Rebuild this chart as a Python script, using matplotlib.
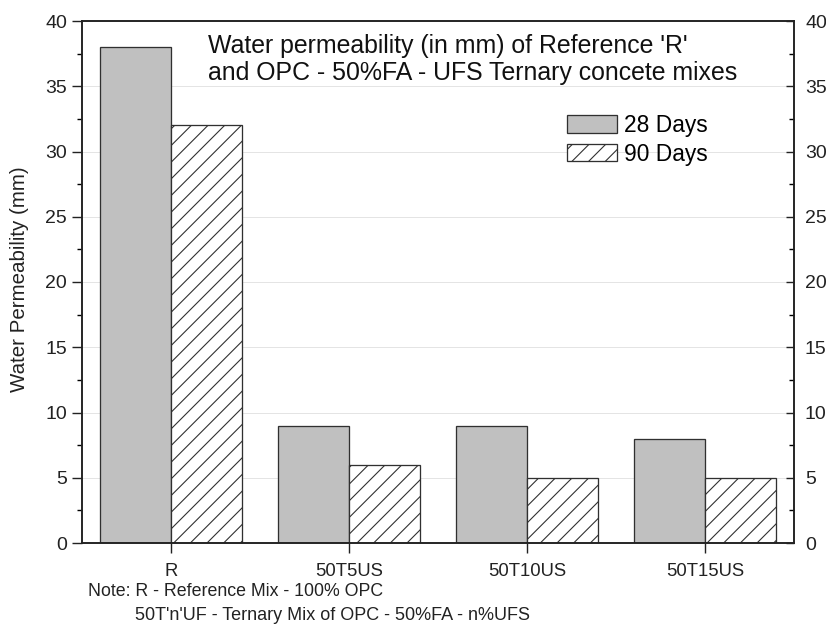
import matplotlib
matplotlib.use("Agg")
import matplotlib.pyplot as plt
import numpy as np
from matplotlib.ticker import MultipleLocator

# Water permeability (mm) of the concrete mixes
mixes = ["R", "50T5US", "50T10US", "50T15US"]
days28 = [38, 9, 9, 8]
days90 = [32, 6, 5, 5]
series_labels = ["28 Days", "90 Days"]

DPI = 100
W, H = 826, 628


def px(v):
    """Convert a size in pixels to points at the figure dpi."""
    return v * 72.0 / DPI


plt.rcParams["font.family"] = ["Liberation Sans", "DejaVu Sans"]
plt.rcParams["hatch.linewidth"] = px(1.1)
plt.rcParams["hatch.color"] = "#555555"

fig = plt.figure(figsize=(W / DPI, H / DPI), dpi=DPI)
ax = fig.add_axes([82 / W, 1 - 543 / H, (794 - 82) / W, (543 - 21) / H])

x = np.arange(len(mixes))
bw = 0.4
edge = "#303030"
ax.bar(x - bw / 2, days28, bw, color="#c0c0c0", edgecolor=edge,
       linewidth=px(1.3), label=series_labels[0], zorder=2)
ax.bar(x + bw / 2, days90, bw, color="white", edgecolor=edge,
       linewidth=px(1.3), hatch="//", label=series_labels[1], zorder=2)

ylim = (0, 40)
ax.set_xlim(-0.5, len(mixes) - 0.5)
ax.set_ylim(*ylim)
ax.yaxis.set_major_locator(MultipleLocator(5))
ax.yaxis.set_minor_locator(MultipleLocator(2.5))
ax.set_xticks(x)
ax.set_xticklabels(mixes)

ax.yaxis.grid(True, which="major", color="#e4e4e4", linewidth=px(1.0), zorder=0)
ax.set_axisbelow(True)

for s in ax.spines.values():
    s.set_linewidth(px(1.6))
    s.set_color("#222222")

ax.tick_params(axis="y", which="major", direction="out", length=px(10),
               width=px(1.4), labelsize=px(19.5), pad=px(5), colors="#222222")
ax.tick_params(axis="y", which="minor", direction="out", length=px(5),
               width=px(1.4))
ax.tick_params(axis="x", which="major", direction="out", length=px(10),
               width=px(1.4), labelsize=px(18.5), pad=px(10), colors="#222222")
ax.tick_params(axis="x", which="minor", bottom=False)

# Mirrored value scale on the right, ticks pointing inward
ax2 = ax.twinx()
ax2.set_ylim(*ylim)
ax2.yaxis.set_major_locator(MultipleLocator(5))
ax2.yaxis.set_minor_locator(MultipleLocator(2.5))
for s in ax2.spines.values():
    s.set_linewidth(px(1.6))
    s.set_color("#222222")
ax2.tick_params(axis="y", which="major", direction="in", length=px(8),
                width=px(1.4), labelsize=px(19.5), pad=px(11), colors="#222222")
ax2.tick_params(axis="y", which="minor", direction="in", length=px(5),
                width=px(1.4))

ax.set_ylabel("Water Permeability (mm)", fontsize=px(20.5), color="#222222")
ax.yaxis.set_label_coords((29 - 82) / 712, (543 - 279) / 522)

ax.text(208 / W, 1 - 59.5 / H,
        "Water permeability (in mm) of Reference 'R'\n"
        "and OPC - 50%FA - UFS Ternary concete mixes",
        transform=fig.transFigure, ha="left", va="center",
        fontsize=px(24.9), linespacing=1.2, color="#111111")

ax2.legend(*ax.get_legend_handles_labels(),
           loc="upper left", bbox_to_anchor=(567 / W, 1 - 114 / H),
           bbox_transform=fig.transFigure, frameon=False,
           fontsize=px(22.7), handlelength=2.2, handleheight=0.8,
           handletextpad=0.3, labelspacing=0.25, borderaxespad=0,
           borderpad=0)

fig.text(88 / W, 1 - 592 / H, "Note: R - Reference Mix - 100% OPC",
         ha="left", va="center", fontsize=px(17.7), color="#222222")
fig.text(135 / W, 1 - 615 / H, "50T'n'UF - Ternary Mix of OPC - 50%FA - n%UFS",
         ha="left", va="center", fontsize=px(18.0), color="#222222")

fig.savefig("out.png", dpi=DPI)
